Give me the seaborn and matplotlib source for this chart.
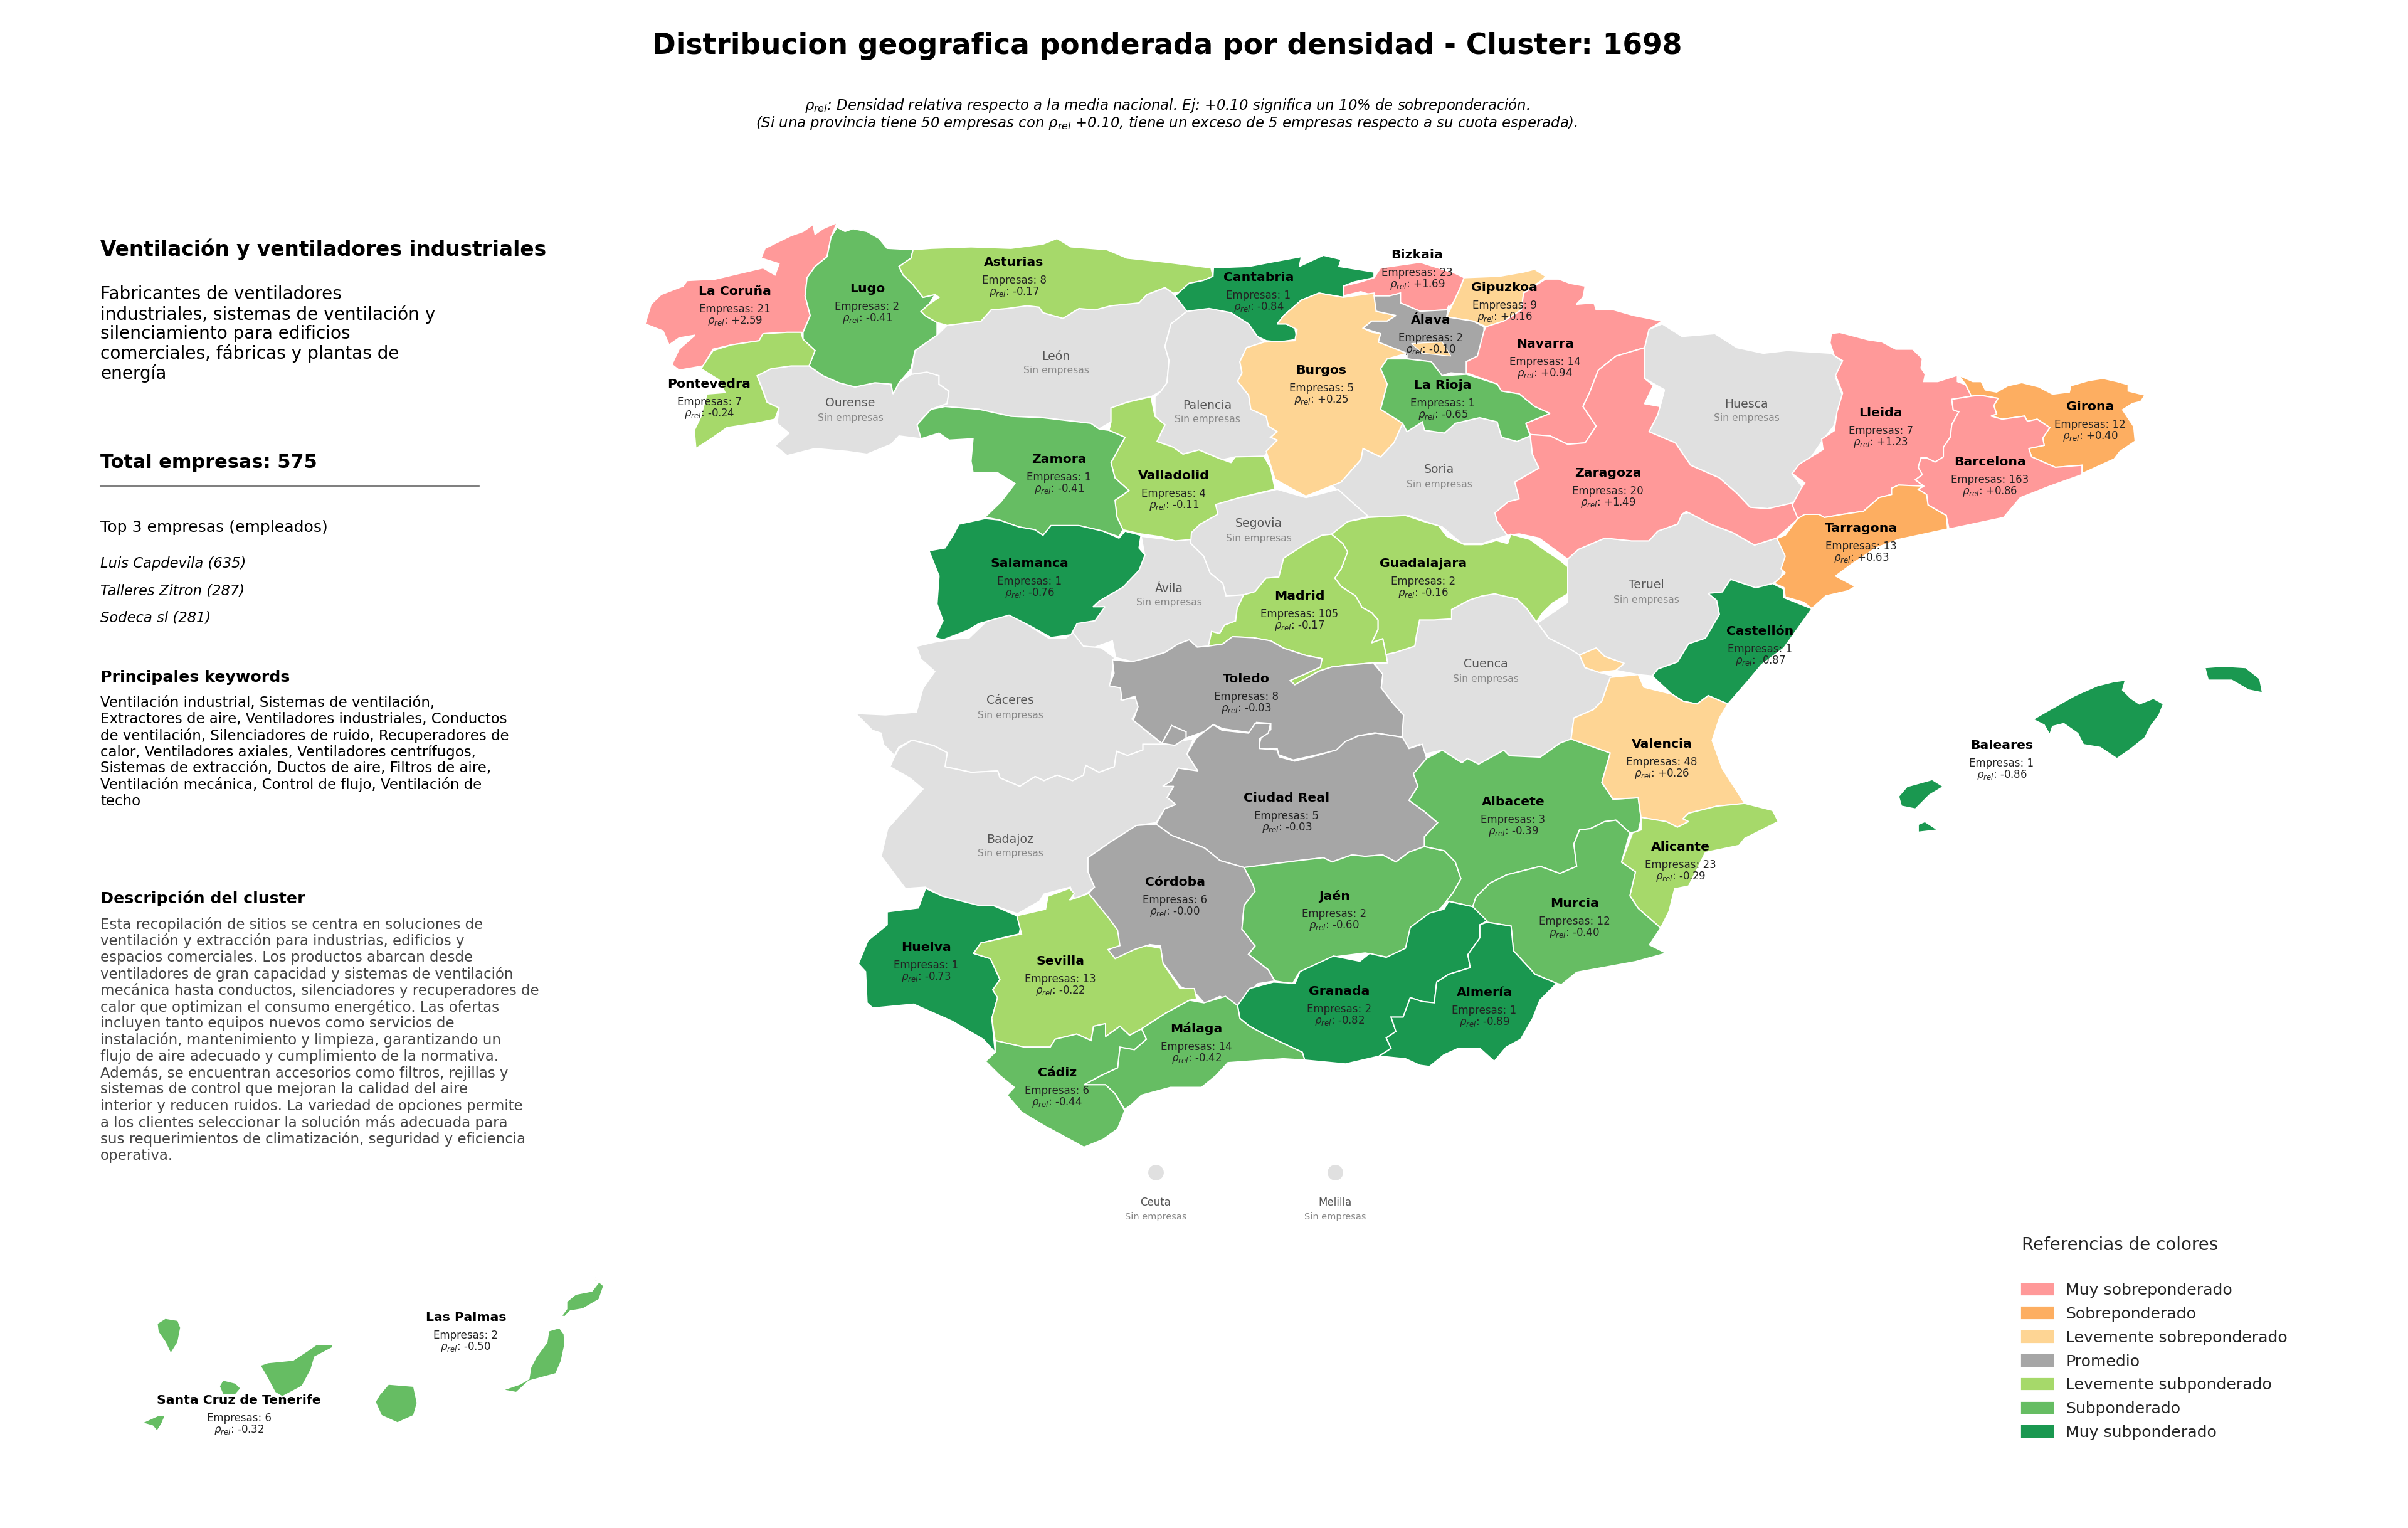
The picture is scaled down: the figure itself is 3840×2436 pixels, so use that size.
import matplotlib
matplotlib.use('Agg')
import matplotlib.pyplot as plt
import seaborn as sns
import pandas as pd
from matplotlib.patches import Patch

# provincias con empresas
NAMES = ['La Coruña', 'Lugo', 'Asturias', 'Pontevedra', 'Cantabria', 'Bizkaia', 'Gipuzkoa', 'Álava', 'Navarra',
         'Burgos', 'La Rioja', 'Zaragoza', 'Lleida', 'Girona', 'Barcelona', 'Tarragona', 'Zamora', 'Valladolid',
         'Salamanca', 'Guadalajara', 'Madrid', 'Castellón', 'Toledo', 'Ciudad Real', 'Córdoba', 'Jaén', 'Huelva',
         'Sevilla', 'Granada', 'Valencia', 'Albacete', 'Alicante', 'Murcia', 'Baleares', 'Almería', 'Málaga',
         'Cádiz', 'Las Palmas', 'Santa Cruz de Tenerife']
EMPRESAS = [21, 2, 8, 7, 1, 23, 9, 2, 14, 5, 1, 20, 7, 12, 163, 13, 1, 4, 1, 2, 105, 1, 8, 5, 6, 2, 1, 13, 2, 48, 3,
            23, 12, 1, 1, 14, 6, 2, 6]
RHO = ['+2.59', '-0.41', '-0.17', '-0.24', '-0.84', '+1.69', '+0.16', '-0.10', '+0.94', '+0.25', '-0.65', '+1.49',
       '+1.23', '+0.40', '+0.86', '+0.63', '-0.41', '-0.11', '-0.76', '-0.16', '-0.17', '-0.87', '-0.03', '-0.03',
       '-0.00', '-0.60', '-0.73', '-0.22', '-0.82', '+0.26', '-0.39', '-0.29', '-0.40', '-0.86', '-0.89', '-0.42',
       '-0.44', '-0.50', '-0.32']
CATEGORY = [0, 5, 4, 4, 6, 0, 2, 3, 0, 2, 5, 0, 0, 1, 0, 1, 5, 4, 6, 4, 4, 6, 3, 3, 3, 5, 6, 4, 6, 2, 5, 4, 5, 6, 6,
            5, 5, 5, 5]
LABEL_X = [1172, 1383, 1617, 1131, 2007, 2260, 2399, 2282, 2464, 2107, 2301, 2564, 2999, 3333, 3173, 2968, 1689, 1872,
           1642, 2270, 2072, 2807, 1987, 2052, 1874, 2128, 1477, 1691, 2136, 2650, 2413, 2680, 2511, 3192, 2367, 1908,
           1686, 743, 381]
LABEL_Y = [464, 461, 419, 612, 443, 407, 459, 510, 548, 590, 614, 754, 658, 648, 736, 843, 733, 758, 899, 898, 950,
           1007, 1083, 1273, 1406, 1429, 1510, 1533, 1581, 1187, 1278, 1350, 1441, 1188, 1583, 1640, 1711, 2100, 2233]

# provincias sin empresas
EMPTY_NAMES = ['Ourense', 'León', 'Palencia', 'Ávila', 'Huesca', 'Soria', 'Segovia', 'Teruel', 'Cáceres', 'Cuenca',
               'Badajoz', 'Ceuta', 'Melilla']
EMPTY_X = [1356, 1684, 1925, 1864, 2785, 2295, 2007, 2625, 1611, 2369, 1611, 1843, 2129]
EMPTY_Y = [643, 568, 646, 938, 644, 749, 835, 933, 1117, 1059, 1338, 1917, 1917]
CITY_X = [1843, 2129]
CITY_Y = [1869, 1869]

LEGEND_LABELS = ['Muy sobreponderado', 'Sobreponderado', 'Levemente sobreponderado', 'Promedio',
                 'Levemente subponderado', 'Subponderado', 'Muy subponderado']
COLORS = ['#ff9999', '#fdae61', '#fed594', '#a6a6a6', '#a6d96a', '#66bd63', '#1a9850']
EMPTY_COLOR = '#e0e0e0'

TOP3 = ['Luis Capdevila (635)', 'Talleres Zitron (287)', 'Sodeca sl (281)']
SUBTEXT = ['Fabricantes de ventiladores', 'industriales, sistemas de ventilación y', 'silenciamiento para edificios',
           'comerciales, fábricas y plantas de', 'energía']
KEYWORDS = ['Ventilación industrial, Sistemas de ventilación,',
            'Extractores de aire, Ventiladores industriales, Conductos',
            'de ventilación, Silenciadores de ruido, Recuperadores de',
            'calor, Ventiladores axiales, Ventiladores centrífugos,',
            'Sistemas de extracción, Ductos de aire, Filtros de aire,',
            'Ventilación mecánica, Control de flujo, Ventilación de',
            'techo']
DESCRIPTION = ['Esta recopilación de sitios se centra en soluciones de',
               'ventilación y extracción para industrias, edificios y',
               'espacios comerciales. Los productos abarcan desde',
               'ventiladores de gran capacidad y sistemas de ventilación',
               'mecánica hasta conductos, silenciadores y recuperadores de',
               'calor que optimizan el consumo energético. Las ofertas',
               'incluyen tanto equipos nuevos como servicios de',
               'instalación, mantenimiento y limpieza, garantizando un',
               'flujo de aire adecuado y cumplimiento de la normativa.',
               'Además, se encuentran accesorios como filtros, rejillas y',
               'sistemas de control que mejoran la calidad del aire',
               'interior y reducen ruidos. La variedad de opciones permite',
               'a los clientes seleccionar la solución más adecuada para',
               'sus requerimientos de climatización, seguridad y eficiencia',
               'operativa.']

# contornos leidos por zonas del mapa: (origen x, origen y, escala x, escala y)
NW = (1000, 320, 1.568, 2.24)
N = (1900, 340, 1.4255, 2.24)
C = (1300, 950, 1.4255, 2.24)
E = (2300, 850, 1.12, 2.24)
S = (1300, 1350, 1.3067, 2.412)
CAN = (100, 2000, 1.742, 3.0)
NE = (2800, 480, 2.24, 3.0)
MID = (1700, 780, 1.96, 3.0)


def px(zone, pts):
    x0, y0, kx, ky = zone
    return [(x0 + x / kx, y0 + y / ky) for x, y in pts]


OUTLINES = {
    'Ourense': [px(NW, [(325,625),(360,600),(410,590),(455,590),(490,625),(530,650),(570,665),(620,650),(660,655),(665,690),(680,650),(710,620),(750,612),(780,625),(780,655),(805,680),(800,725),(760,745),(730,790),(735,850),(680,840),(660,870),(600,905),(550,895),(470,885),(400,910),(370,875),(405,830),(375,795),(380,740),(350,720),(340,680)])],
    'León': [px(NW, [(800,445),(885,430),(910,390),(950,385),(1000,375),(1030,380),(1040,400),(1090,420),(1130,385),(1170,390),(1210,375),(1280,365),(1300,335),(1345,310),(1365,330),(1400,395),(1360,440),(1345,520),(1355,570),(1350,650),(1335,680),(1310,700),(1290,705),(1250,720),(1210,740),(1210,790),(1180,815),(1160,795),(1130,790),(1040,775),(960,770),(880,745),(795,735),(760,745),(800,725),(805,680),(780,655),(780,625),(750,612),(710,620),(720,535),(745,510),(775,480)])],
    'Palencia': [px(NW, [(1400,395),(1360,440),(1345,520),(1355,570),(1350,650),(1335,680),(1320,700),(1320,770),(1345,800),(1325,860),(1365,880),(1390,905),(1430,890),(1480,920),(1510,935)]) + px(N, [(55,885),(100,870),(165,868),(195,810),(180,800),(195,780),(175,760),(170,725),(135,700),(130,650),(105,600),(115,570),(110,530),(125,480),(165,460),(150,440),(130,395),(90,355),(40,340),(0,348)])],
    'Huesca': [px(N, [(1070,395),(1115,440),(1190,430),(1240,480),(1300,500),(1355,490),(1455,500),(1480,530),(1465,590),(1480,650),(1460,760),(1440,800),(1400,890),(1365,930),(1395,990),(1365,1035),(1310,1055),(1270,1050),(1240,1000),(1200,945),(1135,900),(1100,820),(1040,780),(1060,720),(1075,630),(1030,590),(1030,480),(1040,415)])],
    'Soria': [px(N, [(480,750),(490,780),(525,745),(530,775),(575,785),(600,750),(655,730),(695,745),(705,800),(740,815),(770,795),(775,860),(790,910),(735,960),(745,1020),(720,1030),(690,1070),(695,1100),(718,1150),(660,1180),(615,1180),(570,1120),(530,1100),(495,1080),(400,1085),(365,1040),(315,965),(340,960),(385,880),(390,840),(430,870),(460,820)])],
    'Segovia': [px(MID, [(470,65),(660,0),(750,40),(850,0),(900,70),(945,130),(880,155),(830,215),(800,220),(750,260),(680,330),(665,420),(625,425),(590,490),(555,505),(500,510),(490,450),(450,400),(430,320),(390,260),(385,215),(430,140),(470,120),(460,100)])],
    'Ávila': [px(MID, [(235,225),(340,245),(385,215),(390,260),(430,320),(450,400),(490,450),(500,510),(555,505),(535,570),(530,630),(495,650),(480,690),(455,680),(445,750),(410,755),(385,720),(350,740),(310,780),(270,800),(210,825),(155,805),(145,725),(90,755),(50,750),(15,705),(25,640),(75,605),(85,625),(120,560),(85,565),(130,490),(195,440),(235,360),(245,310)])],
    'Teruel': [px(N, [(855,1235),(880,1200),(940,1160),(1000,1170),(1040,1170),(1060,1135),(1105,1110),(1115,1075),(1140,1065),(1180,1110),(1230,1140),(1280,1185),(1330,1160)]) + px(E, [(615,70),(605,160),(590,180),(560,195),(515,165),(500,210),(475,215),(490,240),(495,290),(470,375),(440,395),(420,460),(385,485),(375,510),(350,505),(310,490),(325,465),(290,440),(275,410),(245,435),(225,410),(190,375),(170,320)]) + px(N, [(790,1460),(855,1390),(855,1300)])],
    'Cuenca': [px(MID, [(1125,1265),(1105,1220),(1070,1240),(1050,1185),(1055,1080),(1020,1020),(985,950),(990,885),(965,835),(1005,830),(1000,790),(1030,780),(1090,750),(1095,700),(1105,625),(1150,625),(1205,620),(1205,575),(1260,530),(1300,510),(1340,500),(1410,525),(1440,570),(1470,635)]) + px(E, [(170,320),(190,375),(225,410),(245,435),(255,480),(280,497),(305,510),(295,540),(285,600),(270,630),(235,660),(230,735),(210,750),(175,800),(120,795),(110,775),(65,825),(45,805),(35,820),(0,775)])],
    'Cáceres': [px(C, [(230,180),(272,165),(310,155),(350,150),(390,90),(440,65),(480,100),(530,150),(570,150),(585,130),(610,180),(650,185),(680,220),(670,320),(700,330),(695,370),(730,365),(735,400),(720,440),(790,530),(745,530),(745,550),(710,570),(685,555),(680,610),(645,630),(615,605),(610,640),(585,660),(550,640),(520,660),(500,645),(465,680),(420,650),(415,625),(355,630),(295,610),(300,560),(270,535),(220,515),(190,540),(180,570),(155,530),(150,490),(130,480),(92,420),(160,425),(230,415),(245,330),(272,270),(240,225)])],
    'Badajoz': [px(C, [(180,575),(190,545),(220,515),(270,535),(300,560),(295,610),(355,630),(415,625),(420,650),(465,680),(500,645),(520,660),(550,640),(585,660),(610,640),(615,605),(645,630),(680,610),(685,555),(710,570),(745,550),(745,530),(790,530),(860,510),(845,565),(870,625),(825,615),(810,660),(790,680),(815,680),(800,720),(820,745),(795,760),(775,810),(730,820),(700,850),(670,880),(620,935),(620,985),(635,1040),(620,1060),(590,1085),(580,1040),(520,1065),(510,1090),(460,1135),(405,1105),(345,1110),(285,1070),(250,1040),(205,1045),(150,930),(165,830),(245,690),(215,650),(170,610)])],
    'La Coruña': [px(NW, [(525,78),(510,130),(500,200),(470,235),(450,275),(445,340),(458,410),(440,470),(400,470),(340,475),(330,500),(260,515),(215,530),(190,590),(130,605),(112,585),(130,530),(170,480),(130,490),(105,515),(90,465),(45,440),(60,370),(85,335),(140,305),(150,285),(220,280),(280,260),(340,240),(370,265),(380,225),(335,205),(345,170),(410,125),(440,110),(465,85),(470,120),(490,100)])],
    'Lugo': [px(NW, [(525,95),(545,110),(565,100),(600,110),(630,135),(650,170),(715,175),(710,205),(680,235),(690,265),(715,300),(740,345),(770,335),(755,370),(735,395),(745,410),(775,435),(775,480),(745,510),(720,535),(710,600),(680,650),(665,690),(660,655),(620,650),(570,665),(530,650),(490,625),(455,590),(470,535),(440,495),(440,470),(458,410),(445,340),(450,275),(470,235),(500,200),(510,130)])],
    'Pontevedra': [px(NW, [(435,470),(440,495),(470,535),(455,590),(410,590),(360,600),(325,625),(340,680),(350,720),(380,740),(370,780),(320,795),(250,810),(210,850),(172,885),(168,820),(185,770),(190,740),(200,690),(245,685),(230,640),(185,600),(215,535),(260,515),(330,500),(340,475),(400,470)])],
    'Asturias': [px(NW, [(715,175),(760,170),(860,165),(960,170),(1040,155),(1075,135),(1110,165),(1200,175),(1250,205),(1350,220),(1460,240),(1465,270),(1440,285),(1405,295),(1400,325),(1365,330),(1345,310),(1300,335),(1280,365),(1210,375),(1170,390),(1130,385),(1090,420),(1040,400),(1030,380),(1000,375),(950,385),(910,390),(885,430),(800,445),(775,435),(745,410),(735,395),(755,370),(780,345),(770,335),(740,345),(715,300),(690,265),(680,235),(710,205)])],
    'Cantabria': [px(N, [(50,195),(130,190),(180,175),(250,155),(245,190),(300,150),(340,165),(335,190),(415,210),(415,230),(370,245),(345,260),(345,300),(290,285),(250,310),(210,365),(195,395),(215,395),(235,410),(240,450),(200,460),(170,455),(150,440),(130,395),(90,355),(40,340),(0,348)]) + px(NW, [(1400,395),(1370,340),(1405,295),(1440,285),(1465,270)])],
    'Bizkaia': [px(N, [(345,260),(385,245),(415,230),(430,195),(520,175),(560,195),(600,215),(620,230),(610,270),(595,320),(580,345),(520,350),(475,320),(475,285),(450,295),(415,295),(385,280),(345,295)])],
    'Gipuzkoa': [px(N, [(620,230),(700,225),(755,210),(780,200),(805,225),(800,235),(755,285),(750,345),(710,385),(670,405),(640,385),(580,370),(595,320),(610,270)])],
    'Burgos': [px(N, [(415,285),(420,350),(465,365),(445,385),(410,385),(390,410),(410,425),(430,430),(425,460),(490,500),(445,520),(430,555),(445,610),(430,700),(480,750),(460,820),(430,870),(390,840),(385,880),(340,960),(260,1010),(230,985),(190,950),(170,850),(195,810),(180,800),(195,780),(175,760),(170,725),(135,700),(130,650),(105,600),(115,570),(110,530),(125,480),(165,460),(235,455),(240,415),(215,395),(195,395),(210,365),(250,310),(290,285),(345,300)])],
    'Álava': [px(N, [(415,295),(450,295),(475,285),(475,320),(520,350),(580,345),(585,330),(580,370),(640,385),(665,405),(665,440),(650,510),(625,530),(625,575),(590,570),(570,580),(545,530),(490,520),(490,500),(425,460),(430,430),(390,410),(410,385),(445,385),(465,365),(420,350)])],
    'Navarra': [px(N, [(805,235),(835,235),(860,250),(895,260),(890,300),(875,325),(915,320),(920,345),(960,345),(1005,365),(1070,385),(1040,415),(1030,480),(965,510),(925,560),(905,640),(890,690),(920,760),(895,820),(855,825),(815,795),(770,790),(760,750),(815,715),(780,690),(745,645),(705,635),(695,610),(625,570),(625,530),(650,510),(665,420),(670,405),(710,385),(750,345),(755,285)])],
    'La Rioja': [px(N, [(445,520),(490,520),(545,530),(570,580),(625,575),(695,610),(705,635),(745,645),(780,690),(815,715),(760,750),(770,795),(740,815),(705,800),(695,745),(655,730),(600,750),(575,785),(530,775),(525,745),(490,780),(480,750),(430,700),(445,610),(430,555)])],
    'Zaragoza': [px(N, [(1030,480),(1030,590),(1050,615),(1030,680),(1065,690),(1075,630),(1060,720),(1040,780),(1100,820),(1135,900),(1200,945),(1240,1000),(1270,1050),(1310,1055),(1365,1035),(1380,1090),(1330,1160),(1280,1185),(1230,1140),(1180,1110),(1125,1065),(1115,1075),(1105,1110),(1060,1135),(1040,1170),(1000,1170),(940,1160),(880,1200),(855,1235),(790,1160),(745,1145),(718,1150),(695,1100),(690,1070),(720,1030),(745,1020),(735,960),(790,910),(775,860),(770,790),(815,795),(855,825),(895,820),(920,760),(890,690),(905,640),(925,560),(965,510)])],
    'Lleida': [px(NE, [(270,155),(300,150),(400,185),(450,195),(500,230),(560,230),(595,275),(590,320),(605,350),(600,385),(650,385),(720,355),(720,385),(750,400),(770,455),(700,470),(705,520),(725,530),(700,590),(695,650),(670,700),(670,745),(640,770),(610,750),(590,750),(580,795),(595,830),(570,855),(600,885),(510,880),(485,895),(485,925),(440,940),(385,1005),(310,1020),(245,1035),(225,1020),(175,1020),(150,1040),(130,975),(160,900),(175,870),(130,825),(155,780),(240,710),(235,660),(280,620),(290,530),(310,440),(285,355),(310,285),(280,260),(265,200)])],
    'Girona': [px(NE, [(725,355),(775,385),(805,385),(820,425),(860,435),(900,405),(950,390),(1010,410),(1060,445),(1120,435),(1125,405),(1190,380),(1240,370),(1290,385),(1330,400),(1330,430),(1390,450),(1375,480),(1345,490),(1310,520),(1350,600),(1355,670),(1300,720),(1280,755),(1165,825),(1165,785),(1070,795),(985,745),(975,705),(1030,690),(1025,655),(1050,605),(1005,565),(970,575),(960,550),(880,565),(840,550),(860,540),(850,500),(865,465),(800,450),(770,455),(750,400)])],
    'Barcelona': [px(NE, [(700,470),(770,455),(800,450),(865,465),(850,500),(860,540),(840,550),(880,565),(960,550),(970,575),(1005,565),(1050,605),(1025,655),(1030,690),(975,705),(985,745),(1070,795),(1165,785),(1165,830),(1050,885),(945,940),(885,1035),(690,1090),(680,1025),(660,1010),(615,975),(610,925),(580,900),(600,885),(570,855),(595,830),(580,795),(590,750),(610,750),(640,770),(670,745),(670,700),(695,650),(700,590),(725,530),(705,520)])],
    'Tarragona': [px(NE, [(150,1040),(175,1020),(225,1020),(245,1035),(310,1020),(385,1005),(440,940),(485,925),(485,895),(510,880),(600,885),(580,900),(610,925),(615,975),(660,1010),(680,1025),(685,1090),(580,1120),(510,1140),(430,1180),(340,1260),(285,1315),(355,1365),(330,1385),(250,1410),(200,1470),(170,1440),(105,1415),(100,1370),(65,1350),(105,1300),(90,1280),(105,1220),(75,1135),(105,1120)])],
    'Valladolid': [px(NW, [(1210,740),(1250,720),(1310,700),(1320,770),(1345,800),(1325,860),(1365,880),(1390,905),(1430,890),(1480,920),(1510,935)]) + px(N, [(100,870),(165,868),(180,910),(190,985),(110,1015),(55,1040),(60,1075),(20,1110),(0,1140)]) + px(NW, [(1410,1210),(1370,1215),(1335,1200),(1285,1190),(1240,1175),(1225,1130),(1220,1070),(1255,1035),(1220,990),(1210,935),(1245,845),(1205,820),(1210,790)])],
    'Zamora': [px(NW, [(760,745),(795,735),(880,745),(960,770),(1040,775),(1130,790),(1160,795),(1180,815),(1205,820),(1245,845),(1210,935),(1220,990),(1255,1035),(1220,1070),(1225,1130),(1240,1175),(1230,1200),(1190,1180),(1130,1160),(1060,1160),(1040,1195),(1020,1175),(980,1165),(930,1140),(895,1130),(935,1075),(970,1010),(925,970),(865,970),(860,930),(865,850),(805,855),(780,830),(735,850),(725,800)])],
    'Salamanca': [px(NW, [(830,1155),(895,1135),(930,1140),(980,1165),(1020,1175),(1040,1195),(1060,1160),(1130,1160),(1190,1180),(1230,1205),(1245,1180),(1285,1195),(1280,1240),(1295,1265),(1280,1320),(1240,1380),(1180,1430),(1165,1450),(1195,1450),(1170,1500),(1125,1510),(1110,1550),(1060,1560),(1010,1520),(955,1480),(880,1510),(850,1535),(790,1568),(770,1560),(790,1500),(775,1440),(780,1340),(755,1250),(795,1240),(815,1195)])],
    'Guadalajara': [px(MID, [(830,215),(880,155),(945,135),(1060,125),(1120,155),(1165,175),(1190,225),(1245,265),(1300,265),(1345,245),(1380,260),(1390,215),(1450,240),(1500,295),(1540,335),(1568,370),(1568,500),(1520,545),(1490,590),(1470,635),(1440,570),(1410,525),(1340,500),(1300,510),(1260,530),(1205,575),(1205,620),(1150,625),(1105,625),(1095,700),(1090,750),(1030,780),(1000,790),(990,715),(955,735),(975,670),(975,625),(955,590),(925,565),(905,510),(860,465),(840,425),(860,380),(880,300),(865,260)])],
    'Madrid': [px(MID, [(830,215),(865,260),(880,300),(860,380),(840,425),(860,465),(905,510),(925,565),(955,590),(975,625),(975,670),(955,735),(990,715),(1000,790),(1005,830),(960,830),(885,840),(830,850),(790,870),(750,905),(715,935),(700,915),(745,885),(795,850),(800,810),(750,795),(680,760),(640,725),(585,710),(520,705),(490,740),(445,750),(455,680),(480,690),(495,650),(530,630),(535,570),(555,505),(590,490),(625,425),(665,420),(680,330),(750,260),(800,220)])],
    'Castellón': [px(E, [(515,165),(560,195),(590,180),(610,200),(610,230),(660,270),(610,410),(570,470),(545,530),(510,610),(475,580),(455,610),(430,600),(410,575),(375,510),(385,485),(420,460),(440,395),(470,375),(495,290),(490,240),(475,215),(500,210)])],
    'Toledo': [px(MID, [(145,815),(205,825),(270,800),(310,780),(350,740),(385,720),(410,755),(445,750),(490,740),(520,705),(585,710),(640,725),(680,760),(750,795),(800,810),(795,850),(745,885),(700,915),(715,935),(750,905),(790,870),(830,850),(885,840),(960,830),(990,885),(985,950),(1020,1020),(1055,1080),(1050,1185),(965,1165),(910,1180),(855,1245),(770,1275),(710,1295),(665,1270),(660,1240),(600,1245),(610,1185),(640,1150),(640,1120),(595,1115),(580,1165),(490,1145),(460,1125),(430,1160),(375,1190),(375,1160),(330,1130),(300,1215),(210,1105),(225,1040),(215,990),(175,1010),(170,950),(135,940),(150,880)]),
               px(MID, [(330,1130),(375,1160),(375,1190),(340,1225),(300,1215)])],
    'Ciudad Real': [px(C, [(865,510),(880,490),(905,460),(925,480),(985,490),(1000,455),(1035,455),(1030,490),(1010,510),(1010,545),(1050,550),(1055,575),(1090,590),(1130,575),(1185,550),(1205,520),(1235,500),(1275,490),(1335,505),(1350,545),(1380,530),(1390,580),(1360,635),(1370,680),(1350,730),(1385,770),(1415,810),(1385,860),(1385,895),(1350,915),(1320,950),(1290,925),(1250,930),(1220,925),(1175,950),(1155,935),(1100,945),(975,970),(920,945),(885,900),(810,855),(775,815),(795,760),(820,745),(800,720),(815,680),(790,680),(810,660),(825,615),(870,625),(845,565)])],
    'Córdoba': [px(C, [(620,935),(670,880),(700,850),(730,820),(775,815),(810,855),(885,900),(920,945),(975,970),(995,1030),(1000,1055),(975,1105),(970,1190),(1000,1250),(985,1280),(1030,1335),(1045,1375),(1005,1385),(975,1440),(960,1465),(920,1430),(885,1455),(865,1420),(830,1395),(795,1320),(790,1310),(785,1250),(760,1245),(725,1280),(680,1295),(665,1265),(690,1245),(690,1215),(660,1150),(620,1065),(635,1040),(620,985)])],
    'Jaén': [px(C, [(975,970),(1100,945),(1155,935),(1175,950),(1220,925),(1250,930),(1290,925),(1320,950),(1350,915),(1385,895),(1430,910),(1455,950),(1468,1010),(1450,1060),(1425,1110),(1385,1170),(1345,1255),(1345,1265),(1300,1290),(1250,1275),(1175,1290),(1140,1315),(1100,1345),(1085,1385),(1045,1375),(1030,1335),(985,1280),(1000,1250),(970,1190),(975,1105),(1000,1055),(995,1030)])],
    'Albacete': [px(E, [(35,820),(45,805),(65,825),(110,775),(120,795),(175,800),(210,750),(230,735),(300,785),(285,890),(305,950),(350,945),(355,1020),(350,1065),(335,1070),(310,1025),(290,1030),(265,1055),(245,1060),(235,1110),(240,1190),(210,1215),(175,1190),(115,1220),(85,1250),(60,1300),(55,1330)]) + px(C, [(1495,1110),(1440,1090),(1425,1110),(1450,1060),(1468,1010),(1455,950),(1430,910),(1385,895),(1385,860),(1415,810),(1385,770),(1350,730),(1370,680),(1360,635),(1390,580)]) + px(E, [(0,775)])],
    'Valencia': [px(E, [(300,515),(350,505),(360,550),(410,575),(430,600),(455,610),(475,580),(510,610),(495,660),(482,740),(500,840),(540,965),(490,975),(440,1000),(430,1020),(440,1030),(420,1050),(400,1030),(355,1015),(350,945),(305,950),(285,890),(300,785),(230,735),(235,660),(270,630),(285,600)]),
                 px(E, [(245,435),(275,410),(290,440),(325,465),(310,490),(280,497),(255,480)])],
    'Alicante': [px(E, [(355,1015),(400,1030),(420,1050),(440,1030),(430,1020),(440,1000),(490,975),(540,965),(590,990),(600,1030),(540,1090),(530,1115),(470,1140),(440,1260),(415,1270),(405,1350),(390,1410),(350,1340),(335,1295),(345,1210),(320,1175),(340,1070),(355,1060)])],
    'Murcia': [px(E, [(310,1025),(335,1070),(320,1175),(345,1210),(335,1295),(350,1340),(390,1410),(370,1470),(400,1500),(345,1530),(290,1550),(240,1568),(213,1612)]) + px(S, [(1545,525),(1500,490),(1455,400),(1450,305),(1400,290),(1370,230)]) + px(E, [(55,1330),(60,1300),(85,1250),(115,1220),(175,1190),(210,1215),(240,1190),(235,1110),(245,1060),(265,1055),(290,1030)])],
    'Huelva': [px(S, [(230,160),(265,190),(340,225),(370,225),(420,265),(430,290),(425,335),(345,370),(330,410),(365,430),(385,510),(370,550),(380,580),(368,660),(375,790),(350,740),(285,670),(205,605),(120,620),(108,600),(105,480),(90,450),(110,360),(150,300),(150,250),(215,235)])],
    'Sevilla': [px(S, [(420,265),(480,240),(485,190),(530,160),(540,180),(530,205),(570,180),(610,270),(630,320),(635,380),(610,395),(625,430),(665,395),(690,380),(720,390),(725,450),(740,490),(760,545),(790,545),(795,585),(780,590),(730,640),(680,700),(655,725),(635,690),(605,730),(605,680),(580,690),(575,745),(545,720),(500,740),(490,770),(435,770),(375,745),(368,660),(380,580),(370,550),(385,510),(365,430),(330,410),(345,370),(430,335)])],
    'Granada': [px(S, [(1320,210),(1370,230),(1400,285),(1385,300),(1385,350),(1360,415),(1365,465),(1320,490),(1295,520),(1290,600),(1265,595),(1240,580),(1225,655),(1200,655),(1210,710),(1190,735),(1200,775),(1175,805),(1105,835),(1020,820),(1015,790),(940,725),(905,690),(885,660),(880,610),(905,545),(955,520),(1000,525),(1010,480),(1080,420),(1135,440),(1155,410),(1190,425),(1230,390),(1240,310),(1280,255),(1310,240)])],
    'Almería': [px(S, [(1385,300),(1400,290),(1450,305),(1455,400),(1500,490),(1545,525),(1510,590),(1495,660),(1470,740),(1440,770),(1415,825),(1385,775),(1340,775),(1310,800),(1280,845),(1260,840),(1230,815),(1175,805),(1200,775),(1190,735),(1210,710),(1200,655),(1225,655),(1240,580),(1265,595),(1290,600),(1295,520),(1320,490),(1365,465),(1360,415),(1385,350)])],
    'Málaga': [px(S, [(680,700),(730,640),(780,590),(810,600),(855,575),(880,610),(885,660),(905,690),(940,725),(1015,790),(1020,820),(975,815),(860,830),(835,880),(805,925),(740,925),(680,955),(660,990),(645,1010),(625,950),(605,915),(560,915),(595,880),(630,850),(635,770),(665,780),(690,740)])],
    'Cádiz': [px(S, [(375,745),(435,770),(490,770),(500,740),(545,720),(575,745),(580,690),(605,680),(605,730),(635,690),(655,725),(680,700),(690,740),(665,780),(635,770),(630,850),(595,880),(560,915),(605,915),(625,950),(645,1015),(630,1085),(600,1125),(560,1155),(515,1110),(480,1075),(430,1020),(400,955),(415,925),(385,880),(355,825),(375,790)])],
    'Baleares': [px(E, [(1055,665),(1090,625),(1130,580),(1170,545),(1200,530),(1220,525),(1215,560),(1230,590),(1245,610),(1270,590),(1288,610),(1280,650),(1265,690),(1255,730),(1230,770),(1205,805),(1175,765),(1145,755),(1135,715),(1110,680),(1090,690),(1085,720),(1075,685)]),
                 px(E, [(1362,480),(1395,475),(1435,480),(1460,520),(1465,570),(1440,560),(1410,525),(1368,525)]),
                 px(E, [(815,940),(830,905),(875,880),(895,905),(870,935),(845,985),(820,975)]),
                 px(E, [(850,1040),(862,1030),(885,1060),(850,1068)])],
    'Santa Cruz de Tenerife': [px(CAN, [(262,330),(285,305),(320,315),(328,350),(320,420),(300,475),(285,420),(265,370)]),
                               px(CAN, [(548,530),(570,517),(640,505),(680,460),(705,430),(750,430),(750,445),(700,490),(690,550),(665,630),(610,680),(590,660),(565,580)]),
                               px(CAN, [(445,600),(480,615),(495,640),(480,670),(445,670),(435,630)]),
                               px(CAN, [(220,805),(265,770),(285,770),(275,810),(262,845),(250,820)])],
    'Las Palmas': [px(CAN, [(905,620),(975,630),(985,710),(975,770),(930,805),(885,770),(868,705),(880,670)]),
                   px(CAN, [(1350,365),(1380,350),(1393,380),(1395,430),(1385,510),(1370,570),(1295,605),(1260,660),(1222,648),(1270,620),(1295,595),(1300,540),(1315,490),(1345,420)]),
                   px(CAN, [(1385,295),(1400,260),(1400,225),(1425,190),(1470,175),(1490,130),(1503,150),(1490,215),(1445,260),(1410,270),(1395,297)]),
                   px(CAN, [(1480,110),(1487,125),(1478,128)])],
}
# enclave de Treviño, color de Burgos
TREVINO = px(N, [(500,465),(570,460),(590,510),(525,500)])

sns.set_theme(style='white', font='DejaVu Sans')
fig = plt.figure(figsize=(24, 15.225), dpi=160)
ax = fig.add_axes([0, 0, 1, 1])

color_of = {n: COLORS[c] for n, c in zip(NAMES, CATEGORY)}
for name, polygons in OUTLINES.items():
    color = color_of.get(name, EMPTY_COLOR)
    for poly in polygons:
        xs, ys = zip(*poly)
        ax.fill(xs, ys, facecolor=color, edgecolor='white', linewidth=0.9, zorder=2)
xs, ys = zip(*TREVINO)
ax.fill(xs, ys, facecolor=COLORS[2], edgecolor='white', linewidth=0.6, zorder=2)

# Ceuta y Melilla
cities = pd.DataFrame({'x': CITY_X, 'y': CITY_Y})
sns.scatterplot(data=cities, x='x', y='y', ax=ax, color=EMPTY_COLOR, s=125, linewidth=0, zorder=2, legend=False)
ax.set_xlim(0, 3840)
ax.set_ylim(2436, 0)
ax.axis('off')

# etiquetas
for name, n, rho, x, y in zip(NAMES, EMPRESAS, RHO, LABEL_X, LABEL_Y):
    ax.text(x, y, name, fontsize=9.2, fontweight='bold', ha='center', va='center', color='black', zorder=5)
    ax.text(x, y + 28.5, f'Empresas: {n}', fontsize=7.5, ha='center', va='center', color='#222222', zorder=5)
    ax.text(x, y + 47, r'$\rho_{rel}$: ' + rho, fontsize=7.5, ha='center', va='center', color='#222222', zorder=5)
for name, x, y in zip(EMPTY_NAMES, EMPTY_X, EMPTY_Y):
    small = name in ('Ceuta', 'Melilla')
    ax.text(x, y, name, fontsize=7.5 if small else 8.5, ha='center', va='center', color='#555555', zorder=5)
    ax.text(x, y + 23, 'Sin empresas', fontsize=6.5 if small else 7, ha='center', va='center', color='#888888', zorder=5)

# titulo
ax.text(1861, 74, 'Distribucion geografica ponderada por densidad - Cluster: 1698', fontsize=20.5, fontweight='bold',
        ha='center', va='center', color='black')
ax.text(1861, 168, r'$\rho_{rel}$: Densidad relativa respecto a la media nacional. Ej: +0.10 significa un 10% de sobreponderación.',
        fontsize=10.25, style='italic', ha='center', va='center', color='black')
ax.text(1861, 197, r'(Si una provincia tiene 50 empresas con $\rho_{rel}$ +0.10, tiene un exceso de 5 empresas respecto a su cuota esperada).',
        fontsize=10.25, style='italic', ha='center', va='center', color='black')

# panel izquierdo
LEFT = 160
ax.text(LEFT, 398, 'Ventilación y ventiladores industriales', fontsize=14.75, fontweight='bold', va='center', color='black')
for line, y in zip(SUBTEXT, [469, 501, 532, 563, 595]):
    ax.text(LEFT, y, line, fontsize=12.6, va='center', color='black')
ax.text(LEFT, 737, 'Total empresas: 575', fontsize=13.7, fontweight='bold', va='center', color='black')
ax.plot([LEFT, 764], [775, 775], color='gray', linewidth=1)
ax.text(LEFT, 841, 'Top 3 empresas (empleados)', fontsize=11.3, va='center', color='black')
for line, y in zip(TOP3, [899, 942, 985]):
    ax.text(LEFT, y, line, fontsize=10.2, style='italic', va='center', color='black')
ax.text(LEFT, 1080, 'Principales keywords', fontsize=11.35, fontweight='bold', va='center', color='black')
for i, line in enumerate(KEYWORDS):
    ax.text(LEFT, 1121 + i * 26, line, fontsize=10.3, va='center', color='black')
ax.text(LEFT, 1432, 'Descripción del cluster', fontsize=11.35, fontweight='bold', va='center', color='black')
for i, line in enumerate(DESCRIPTION):
    ax.text(LEFT, 1474 + i * 26.3, line, fontsize=10.3, va='center', color='#444444')

# leyenda
handles = [Patch(color=c, label=l) for c, l in zip(COLORS, LEGEND_LABELS)]
ax.legend(handles=handles, title='Referencias de colores\n', loc='lower left', bbox_to_anchor=(3224, 2296),
          bbox_transform=ax.transData, frameon=False, fontsize=11.3, title_fontsize=12.5, alignment='left',
          borderpad=0, borderaxespad=0, labelspacing=0.55)

fig.savefig('out.png', dpi=160, facecolor='white')
